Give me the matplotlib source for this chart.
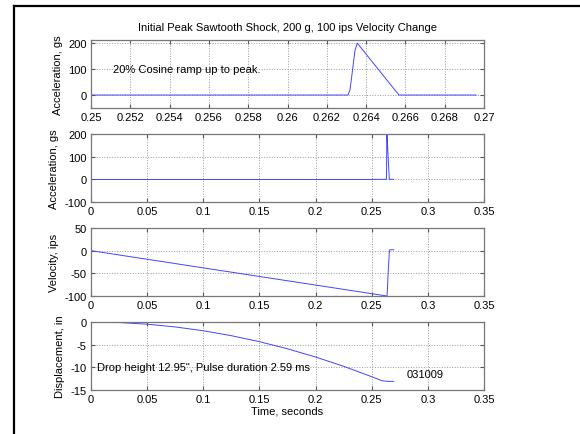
import numpy as np
import matplotlib.pyplot as plt
from matplotlib.lines import Line2D

plt.rcParams['font.family'] = ['Liberation Sans', 'DejaVu Sans']
plt.rcParams['font.size'] = 8
plt.rcParams['axes.unicode_minus'] = False

# Acceleration pulse (seconds, g)
t_acc = [0.25, 0.26308, 0.26318, 0.26330, 0.26343, 0.26355, 0.26567, 0.2696]
acc = [0, 0, 20, 90, 170, 200, 0, 0]

# Velocity (seconds, ips)
t_vel = [0.0, 0.2636, 0.2639, 0.2647, 0.2657, 0.2661, 0.2696]
vel = [0, -100, -90, -45, -3, 2, 2]

# Displacement (seconds, in)
t_disp = [0.02, 0.025, 0.05, 0.075, 0.1, 0.125, 0.15, 0.175, 0.2, 0.225, 0.25, 0.259, 0.2647, 0.2696]
disp = [-0.08, -0.12, -0.48, -1.09, -1.93, -3.02, -4.34, -5.91, -7.72, -9.77, -12.07, -12.95, -13.1, -13.1]

title = 'Initial Peak Sawtooth Shock, 200 g, 100 ips Velocity Change'
xticks_zoom = [0.25, 0.252, 0.254, 0.256, 0.258, 0.26, 0.262, 0.264, 0.266, 0.268, 0.27]
xticks_full = [0, 0.05, 0.1, 0.15, 0.2, 0.25, 0.3, 0.35]

fig = plt.figure(figsize=(5.8, 4.35), dpi=100)

# black frame: only the top and left edges fall inside the picture
fx, fy = 13.5 / 580, 1 - 6.5 / 435
fig.add_artist(Line2D([fx, 1.0], [fy, fy], transform=fig.transFigure, color='black', linewidth=1.6))
fig.add_artist(Line2D([fx, fx], [fy, 0.0], transform=fig.transFigure, color='black', linewidth=1.6))

left, width, height = 91 / 580, 393 / 580, 68 / 435
bottoms = [1 - 109 / 435, 1 - 203 / 435, 1 - 297 / 435, 1 - 391 / 435]
axes = [fig.add_axes([left, b, width, height]) for b in bottoms]


def style(ax):
    ax.grid(True, linestyle=':', color='#999999', linewidth=0.7)
    ax.tick_params(direction='in', top=True, right=True, length=3, color='#555555', labelsize=8, pad=3)
    for s in ax.spines.values():
        s.set_color('#777777')
        s.set_linewidth(0.9)
    ax.xaxis.set_major_formatter(plt.FuncFormatter(lambda v, p: '%g' % v))


line_kw = dict(color='#4444ff', linewidth=0.7)

ax = axes[0]
ax.plot(t_acc, acc, **line_kw)
ax.set_xlim(0.25, 0.27)
ax.set_ylim(-50, 212)
ax.set_xticks(xticks_zoom)
ax.set_yticks([0, 100, 200])
ax.set_ylabel('Acceleration, gs')
ax.set_title(title, fontsize=8, pad=7)
ax.text(0.2511, 100, '20% Cosine ramp up to peak.', va='center', fontsize=8)
style(ax)

ax = axes[1]
ax.plot(t_acc, acc, **line_kw)
ax.plot([0, t_acc[0]], [0, 0], **line_kw)
ax.set_xlim(0, 0.35)
ax.set_ylim(-100, 200)
ax.set_xticks(xticks_full)
ax.set_yticks([-100, 0, 100, 200])
ax.set_ylabel('Acceleration, gs')
style(ax)

ax = axes[2]
ax.plot(t_vel, vel, **line_kw)
ax.set_xlim(0, 0.35)
ax.set_ylim(-100, 50)
ax.set_xticks(xticks_full)
ax.set_yticks([-100, -50, 0, 50])
ax.set_ylabel('Velocity, ips')
style(ax)

ax = axes[3]
ax.plot(t_disp, disp, **line_kw)
ax.set_xlim(0, 0.35)
ax.set_ylim(-15, 0)
ax.set_xticks(xticks_full)
ax.set_yticks([-15, -10, -5, 0])
ax.set_ylabel('Displacement, in')
ax.set_xlabel('Time, seconds', labelpad=1)
ax.text(0.0055, -10, 'Drop height 12.95", Pulse duration 2.59 ms', va='center', fontsize=8)
ax.text(0.2813, -11.4, '031009', va='center', fontsize=8)
style(ax)

fig.savefig('out.png', dpi=100)
